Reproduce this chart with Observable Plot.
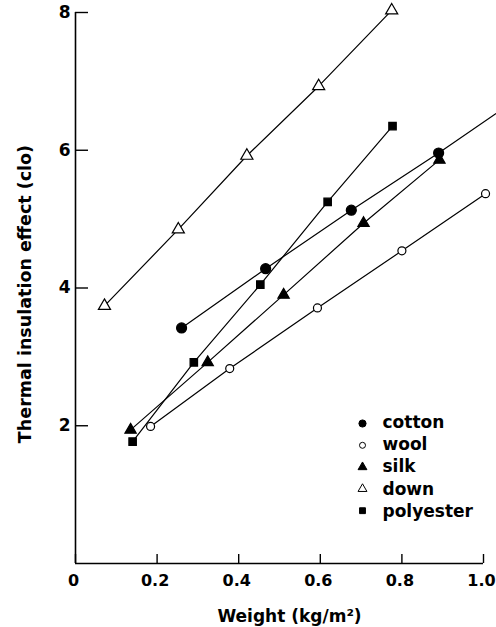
<!DOCTYPE html>
<html>
<head>
<meta charset="utf-8">
<script src="https://cdn.jsdelivr.net/npm/d3@7"></script>
<script src="https://cdn.jsdelivr.net/npm/@observablehq/plot@0.6"></script>
<style>
  html, body { margin: 0; padding: 0; background: #fff; }
  #chart svg { display: block; }
</style>
</head>
<body>
<div id="chart"></div>
<script>
// Data
const seriesNames = ["cotton", "wool", "silk", "down", "polyester"];

const cottonX = [0.26, 0.466, 0.676, 0.89];
const cottonY = [3.42, 4.28, 5.13, 5.96];
const cottonLineEndX = [1.03];   // fitted line continues past the last point
const cottonLineEndY = [6.53];

const woolX = [0.184, 0.378, 0.593, 0.80, 1.005];
const woolY = [1.99, 2.83, 3.71, 4.54, 5.37];

const silkX = [0.135, 0.324, 0.51, 0.706, 0.892];
const silkY = [1.94, 2.92, 3.90, 4.94, 5.86];

const downX = [0.071, 0.252, 0.42, 0.596, 0.775];
const downY = [3.74, 4.85, 5.92, 6.93, 8.03];

const polyesterX = [0.14, 0.29, 0.453, 0.618, 0.777];
const polyesterY = [1.77, 2.92, 4.05, 5.25, 6.35];

const xTicks = [0, 0.2, 0.4, 0.6, 0.8, 1.0];
const xTickLabels = ["0", "0.2", "0.4", "0.6", "0.8", "1.0"];
const yTicks = [2, 4, 6, 8];
const yTickLabels = ["2", "4", "6", "8"];

const xLabel = "Weight (kg/m²)";
const yLabel = "Thermal insulation effect (clo)";

// Styles per series
const style = {
  cotton:    {symbol: "circle",   fill: "black", r: 5,   lr: 3.6},
  wool:      {symbol: "circle",   fill: "white", r: 4,   lr: 3},
  silk:      {symbol: "triangle", fill: "black", r: 4.2, lr: 3.3},
  down:      {symbol: "triangle", fill: "white", r: 4.5, lr: 3.3},
  polyester: {symbol: "square",   fill: "black", r: 4.2, lr: 3.3}
};

const raw = {
  cotton: [cottonX, cottonY],
  wool: [woolX, woolY],
  silk: [silkX, silkY],
  down: [downX, downY],
  polyester: [polyesterX, polyesterY]
};

const points = [];
for (const s of seriesNames) {
  const [xs, ys] = raw[s];
  xs.forEach((x, i) => points.push({series: s, x, y: ys[i]}));
}
const linePoints = points.concat(
  cottonLineEndX.map((x, i) => ({series: "cotton", x, y: cottonLineEndY[i]}))
);

const font = "'DejaVu Sans', sans-serif";

const marks = [
  // axis lines
  Plot.ruleX([0], {stroke: "black", strokeWidth: 1.6}),
  Plot.ruleY([0], {stroke: "black", strokeWidth: 1.6}),
  // inward ticks (zero-length rules extended by negative insets)
  Plot.ruleX(xTicks, {x: d => d, y1: 0, y2: 0, insetTop: -9, stroke: "black", strokeWidth: 1.4}),
  Plot.ruleY(yTicks, {y: d => d, x1: 0, x2: 0, insetRight: -13, stroke: "black", strokeWidth: 1.4}),
  // tick labels
  Plot.axisX({ticks: xTicks, tickSize: 0, tickPadding: 11, tickFormat: (d, i) => xTickLabels[i],
    fontSize: 16, fontWeight: "bold", fill: "black", label: null, dx: -2}),
  Plot.axisY({ticks: yTicks, tickSize: 0, tickPadding: 5, tickFormat: (d, i) => yTickLabels[i],
    fontSize: 17, fontWeight: "bold", fill: "black", label: null}),
  // axis titles
  Plot.text([xLabel], {frameAnchor: "bottom", lineAnchor: "middle", dx: 10, dy: 53, text: d => d,
    fontSize: 17, fontWeight: "bold", fill: "black"}),
  Plot.text([yLabel], {frameAnchor: "left", textAnchor: "middle", lineAnchor: "middle",
    dx: -50, dy: 6, rotate: -90, text: d => d,
    fontSize: 17.5, fontWeight: "bold", fill: "black"}),
  // lines
  Plot.line(linePoints, {x: "x", y: "y", z: "series", stroke: "black", strokeWidth: 1.2}),
  // points
  ...seriesNames.map(s => Plot.dot(points.filter(p => p.series === s), {
    x: "x", y: "y", symbol: style[s].symbol, r: style[s].r,
    fill: style[s].fill, stroke: "black", strokeWidth: 1.2
  })),
  // legend
  ...seriesNames.map((s, i) => Plot.dot([s], {
    frameAnchor: "top-left", dx: 287, dy: 411 + i * 21.8,
    symbol: style[s].symbol, r: style[s].lr,
    fill: style[s].fill, stroke: "black", strokeWidth: 1
  })),
  ...seriesNames.map((s, i) => Plot.text([s], {
    frameAnchor: "top-left", lineAnchor: "middle", dx: 307, dy: 410 + i * 22.2, text: d => d,
    textAnchor: "start", fontSize: 17, fontWeight: "bold", fill: "black"
  }))
];

const chart = Plot.plot({
  width: 496,
  height: 627,
  marginLeft: 75,
  marginRight: 13,
  marginTop: 12,
  marginBottom: 64,
  style: {fontFamily: font, background: "white", color: "black"},
  x: {domain: [0, 1.0], axis: null},
  y: {domain: [0, 8], axis: null},
  marks
});
document.getElementById("chart").appendChild(chart);
</script>
</body>
</html>
